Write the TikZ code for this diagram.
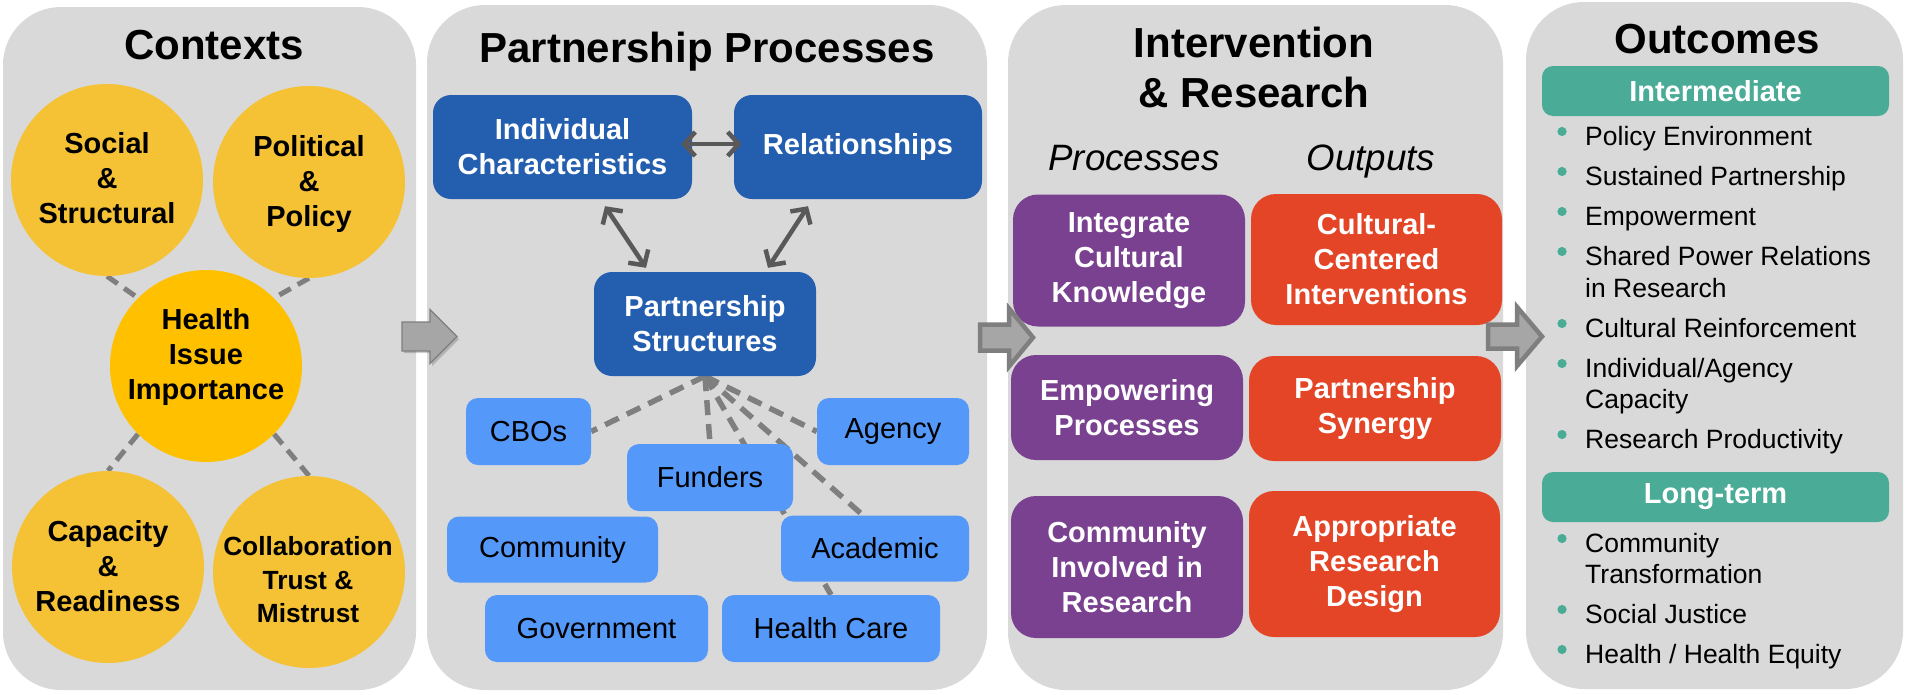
\documentclass[tikz,border=0pt]{standalone}
\usepackage{fontspec}
\setmainfont{Liberation Sans}
\usetikzlibrary{arrows.meta,calc}
\pgfdeclarelayer{panels}
\pgfdeclarelayer{links}
\pgfsetlayers{panels,links,main}
\definecolor{panelgray}{HTML}{D9D9D9}
\definecolor{circy}{HTML}{F5C236}
\definecolor{circh}{HTML}{FFC000}
\definecolor{dblue}{HTML}{245FAF}
\definecolor{lblue}{HTML}{5498F9}
\definecolor{purp}{HTML}{7A4190}
\definecolor{orng}{HTML}{E34526}
\definecolor{teal}{HTML}{4AAB97}
\definecolor{dashgray}{HTML}{7F7F7F}
\definecolor{arrdark}{HTML}{595959}
\definecolor{bigfill}{HTML}{A6A6A6}
\definecolor{bigedge}{HTML}{7F7F7F}
\newcommand\myTitleFont{\fontsize{42}{50}\selectfont\bfseries}
\newcommand\myBoxFont{\fontsize{29}{35}\selectfont\bfseries}
\newcommand\mySmallBoxFont{\fontsize{26.3}{33.5}\selectfont\bfseries}
\newcommand\myPlainFont{\fontsize{29}{35}\selectfont}
\newcommand\myItemFont{\fontsize{26.5}{31}\selectfont}
\newcommand\mySubFont{\fontsize{36.7}{44}\selectfont\itshape}
\begin{document}
\begin{tikzpicture}[x=1pt,y=-1pt,
  panel/.style={fill=panelgray, rounded corners=58pt},
  ctxc/.style={circle, fill=circy, minimum size=192pt, inner sep=0pt},
  ctxt/.style={align=center, font=\myBoxFont, inner sep=0pt},
  titletext/.style={font=\myTitleFont, align=center, inner sep=0pt},
  subtext/.style={font=\mySubFont, inner sep=0pt, anchor=base},
  dbox/.style={fill=dblue, rounded corners=18pt, text=white, font=\myBoxFont, align=center, inner sep=0pt},
  lbox/.style={fill=lblue, rounded corners=12pt, text=black, font=\myPlainFont, align=center, inner sep=0pt},
  pbox/.style={fill=purp, rounded corners=25pt, text=white, font=\myBoxFont, align=center, inner sep=0pt},
  obox/.style={fill=orng, rounded corners=25pt, text=white, font=\myBoxFont, align=center, inner sep=0pt},
  tbar/.style={fill=teal, rounded corners=11pt, text=white, font=\myBoxFont, inner sep=0pt, minimum width=347pt, minimum height=50pt},
  item/.style={font=\myItemFont, anchor=base west, inner sep=0pt},
  dashln/.style={draw=dashgray, line width=5.5pt, dash pattern=on 15pt off 9pt},
  ctxdash/.style={draw=dashgray, line width=5pt, dash pattern=on 13pt off 8pt},
  dblarrow/.style={draw=arrdark, line width=4.5pt, arrows={Straight Barb[length=11pt,width=24pt]-Straight Barb[length=11pt,width=24pt]}},
  bigarrow/.style={fill=bigfill, draw=bigedge, line width=4.5pt, line join=miter}
]
\useasboundingbox (0,0) rectangle (1905,694);
\begin{pgfonlayer}{panels}
  \fill[white] (0,0) rectangle (1905,694);
  \fill[panel] (3,7) rectangle (416,690);
  \fill[panel] (427,5) rectangle (987,690);
  \fill[panel] (1008,5) rectangle (1503,690);
  \fill[panel] (1526,2) rectangle (1903,689);
\end{pgfonlayer}

% ---------- Contexts ----------
\node[titletext, anchor=base] (t1) at (214,59) {Contexts};
\node[ctxc] (soc) at (107,180) {};
\node[ctxc] (pol) at (309,182) {};
\node[ctxc, fill=circh] (hi) at (206,366) {};
\node[ctxc] (cap) at (108,567) {};
\node[ctxc] (col) at (309,572) {};
\node[ctxt] (soct) at (107,178) {Social\\\&\\Structural};
\node[ctxt] (polt) at (309,184) {Political\\\&\\Policy};
\node[ctxt] (hit) at (206,357) {Health\\Issue\\Importance};
\node[ctxt] (capt) at (108,566) {Capacity\\\&\\Readiness};
\node[ctxt, font=\mySmallBoxFont] (colt) at (308,580) {Collaboration\\Trust \&\\Mistrust};

% ---------- Partnership Processes ----------
\node[titletext, anchor=base] (t2) at (707,62) {Partnership Processes};
\node[dbox, minimum width=259pt, minimum height=104pt] (ic) at (562.5,147) {Individual\\Characteristics};
\node[dbox, minimum width=248pt, minimum height=104pt] (rel) at (858,147) {Relationships};
\node[dbox, minimum width=222pt, minimum height=104pt] (ps) at (705,324) {Partnership\\Structures};
\node[lbox, minimum width=125pt, minimum height=67pt] (cbo) at (528.5,431.5) {CBOs};
\node[lbox, minimum width=166pt, minimum height=67pt] (fund) at (710,477.5) {Funders};
\node[lbox, minimum width=152pt, minimum height=67pt] (agen) at (893,431.5) {Agency};
\node[lbox, minimum width=211pt, minimum height=66pt] (comm) at (552.5,549.5) {Community};
\node[lbox, minimum width=188pt, minimum height=66pt] (acad) at (875,548.5) {Academic};
\node[lbox, minimum width=223pt, minimum height=67pt] (gov) at (596.5,628.5) {Government};
\node[lbox, minimum width=218pt, minimum height=67pt] (hc) at (831,628.5) {Health Care};

\draw[dblarrow] ($(ic.east)+(-11,-3)$) -- ($(rel.west)+(8,-3)$);
\draw[dblarrow] ($(ic.south)+(42.5,7)$) -- ($(ps.north)+(-59,-4)$);
\draw[dblarrow] ($(rel.south)+(-50,7)$) -- ($(ps.north)+(63,-4)$);

% ---------- Intervention & Research ----------
\node[titletext, anchor=base] (t3a) at (1254,57.5) {Intervention};
\node[titletext, anchor=base] (t3b) at (1254,107.5) {\& Research};
\node[subtext] (sp) at (1134,170) {Processes};
\node[subtext] (so) at (1371,170) {Outputs};
\node[pbox, minimum width=232pt, minimum height=132pt] (p1) at (1129,260.5) {Integrate\\Cultural\\Knowledge};
\node[pbox, minimum width=232pt, minimum height=105pt] (p2) at (1127,407.5) {Empowering\\Processes};
\node[pbox, minimum width=232pt, minimum height=142pt] (p3) at (1127,567) {Community\\Involved in\\Research};
\node[obox, minimum width=251pt, minimum height=131pt] (o1) at (1376.5,259.5) {Cultural-\\Centered\\Interventions};
\node[obox, minimum width=252pt, minimum height=105pt] (o2) at (1375,408.5) {Partnership\\Synergy};
\node[obox, minimum width=251pt, minimum height=146pt] (o3) at (1374.5,564) {Appropriate\\Research\\Design};

% ---------- Outcomes ----------
\node[titletext, anchor=base] (t4) at (1717,53) {Outcomes};
\node[tbar] (inter) at (1715.5,91) {Intermediate};
\node[tbar] (longt) at (1715.5,497) {Long-term};
\node[item] (i1) at (1585,145) {Policy Environment};
\node[item] (i2) at (1585,185) {Sustained Partnership};
\node[item] (i3) at (1585,225) {Empowerment};
\node[item] (i4) at (1585,265) {Shared Power Relations};
\node[item] (i4b) at (1585,297) {in Research};
\node[item] (i5) at (1585,337) {Cultural Reinforcement};
\node[item] (i6) at (1585,377) {Individual/Agency};
\node[item] (i6b) at (1585,408) {Capacity};
\node[item] (i7) at (1585,448) {Research Productivity};
\node[item] (l1) at (1585,552) {Community};
\node[item] (l1b) at (1585,583) {Transformation};
\node[item] (l2) at (1585,623) {Social Justice};
\node[item] (l3) at (1585,663) {Health / Health Equity};
\foreach \yy in {145,185,225,265,337,377,448,552,623,663}{
  \fill[teal] (1562,\yy-13.5) circle (4.6pt);
}

% ---------- dashed connectors ----------
\begin{pgfonlayer}{links}
  \draw[ctxdash] (soc.south) -- (hi.135);
  \draw[ctxdash] (pol.south) -- (hi.45);
  \draw[ctxdash] (hi.-135) -- (cap.north);
  \draw[ctxdash] (hi.-45) -- (col.north);
  \draw[dashln] (ps.south) -- (cbo.east);
  \draw[dashln] (ps.south) -- (fund.north);
  \draw[dashln] (ps.south) -- (agen.west);
  \draw[dashln] (ps.south) -- ([xshift=-12pt]acad.north);
  \draw[dashln] (ps.south) -- (hc.north);
\end{pgfonlayer}

% ---------- big block arrows ----------
\fill[black, opacity=0.18] (404,324) -- (432,324) -- (432,312) -- (459,339) -- (432,366) -- (432,353) -- (404,353) -- cycle;
\filldraw[fill=bigfill, draw=bigedge, line width=1.2pt, line join=miter] (402,322) -- (430,322) -- (430,309.5) -- (457,336.5) -- (430,363.5) -- (430,351) -- (402,351) -- cycle;
\filldraw[bigarrow] (980,324.5) -- (1009,324.5) -- (1009,308.5) -- (1033,337.5) -- (1009,366.5) -- (1009,350.5) -- (980,350.5) -- cycle;
\filldraw[bigarrow] (1488,324.5) -- (1517,324.5) -- (1517,307) -- (1542,336.5) -- (1517,366) -- (1517,348.5) -- (1488,348.5) -- cycle;
\end{tikzpicture}
\end{document}
